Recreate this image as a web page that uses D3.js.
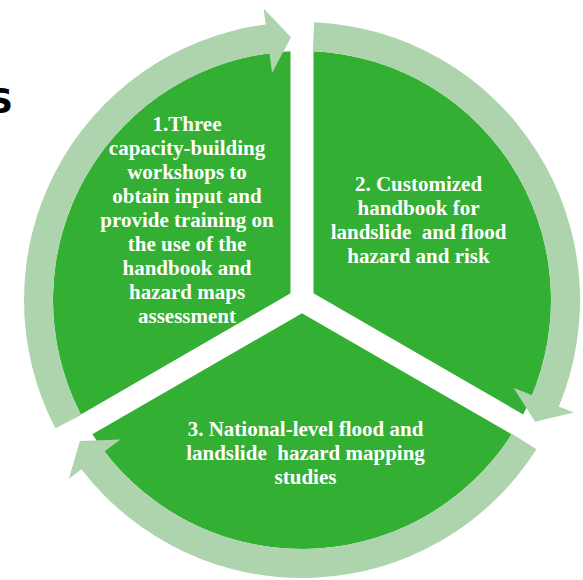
<!DOCTYPE html>
<html>
<head>
<meta charset="utf-8">
<script src="https://cdn.jsdelivr.net/npm/d3@7"></script>
<style>
  html, body { margin: 0; padding: 0; background: #ffffff; }
  svg { display: block; }
</style>
</head>
<body>
<svg id="chart" width="583" height="580"></svg>
<script>
// ---- data ----
const steps = ["1", "2", "3"];
const stepValues = [1, 1, 1];
const stepLabels = [
  ["1.Three", "capacity-building", "workshops to", "obtain input and", "provide training on", "the use of the", "handbook and", "hazard maps", "assessment"],
  ["2. Customized", "handbook for", "landslide  and flood", "hazard and risk"],
  ["3. National-level flood and", "landslide  hazard mapping", "studies"]
];
const cornerText = "S";

// ---- layout ----
const W = 583, H = 580;
const cx = 302, cy = 300;
const pieR = 249, ringIn = 249, ringOut = 278;
const barbIn = 229, barbOut = 294, tipR = 263;
const gapW = 23;
const green = "#33af33", light = "#add4ad";
const deg = Math.PI / 180;
const labelPos = [[-115, -79], [116.5, -79], [3.5, 154]];
const lineH = 24;

const svg = d3.select("#chart");
const g = svg.append("g").attr("transform", `translate(${cx},${cy})`);

const pie = d3.pie().sort(null).startAngle(-120 * deg).endAngle(240 * deg);
const arcs = pie(stepValues);

const arc = d3.arc()
  .innerRadius(13.5)
  .outerRadius(pieR)
  .padRadius(1000)
  .padAngle(gapW / 1000);

g.selectAll("path.sector")
  .data(arcs)
  .enter().append("path")
  .attr("class", "sector")
  .attr("d", arc)
  .attr("fill", green);

// circular arrows
function pt(r, a) { return [r * Math.sin(a), -r * Math.cos(a)]; }
function arrowPath(d) {
  const a0 = d.startAngle + 2.5 * deg;
  const ab = d.endAngle - 7.5 * deg;
  const at = d.endAngle - 2.4 * deg;
  const p = d3.path();
  const s = pt(ringOut, a0);
  p.moveTo(s[0], s[1]);
  p.arc(0, 0, ringOut, a0 - Math.PI / 2, ab - Math.PI / 2, false);
  let q = pt(barbOut, ab); p.lineTo(q[0], q[1]);
  q = pt(tipR, at); p.lineTo(q[0], q[1]);
  q = pt(barbIn, ab); p.lineTo(q[0], q[1]);
  q = pt(ringIn, ab); p.lineTo(q[0], q[1]);
  p.arc(0, 0, ringIn, ab - Math.PI / 2, a0 - Math.PI / 2, true);
  p.closePath();
  return p.toString();
}
g.selectAll("path.arrow")
  .data(arcs)
  .enter().append("path")
  .attr("class", "arrow")
  .attr("d", arrowPath)
  .attr("fill", light);

// labels
const labels = g.selectAll("text.lab")
  .data(stepLabels)
  .enter().append("text")
  .attr("class", "lab")
  .attr("text-anchor", "middle")
  .attr("font-family", "'Liberation Serif', serif")
  .attr("font-weight", "bold")
  .attr("font-size", 21)
  .attr("fill", "#ffffff")
  .attr("xml:space", "preserve")
  .style("white-space", "pre");

labels.each(function(lines, i) {
  const t = d3.select(this);
  const n = lines.length;
  lines.forEach((ln, k) => {
    t.append("tspan")
      .attr("x", labelPos[i][0])
      .attr("y", labelPos[i][1] + (k - (n - 1) / 2) * lineH + 6)
      .text(ln);
  });
});

// cropped black letter at left edge
svg.append("text")
  .attr("x", 13).attr("y", 113)
  .attr("text-anchor", "end")
  .attr("font-family", "'DejaVu Sans', sans-serif")
  .attr("font-weight", "bold")
  .attr("font-size", 34)
  .attr("fill", "#000")
  .text(cornerText);
</script>
</body>
</html>
